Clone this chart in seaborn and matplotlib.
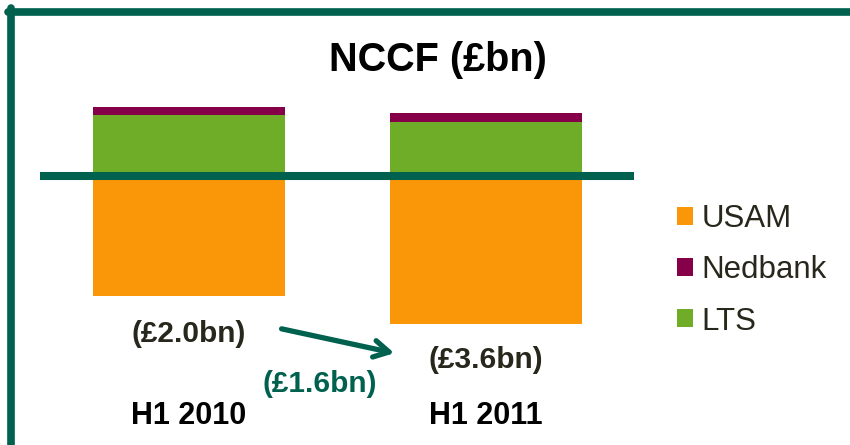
import matplotlib
matplotlib.use("Agg")
import matplotlib.pyplot as plt
import seaborn as sns
import pandas as pd
from matplotlib.patches import Patch
from matplotlib.lines import Line2D

# NCCF components (£bn)
periods = ["H1 2010", "H1 2011"]
usam = [-4.8, -5.9]
lts = [2.45, 2.17]
nedbank = [0.32, 0.36]
net_labels = ["(£2.0bn)", "(£3.6bn)"]
change_label = "(£1.6bn)"

c_usam = "#F99708"
c_lts = "#6FAC27"
c_ned = "#850048"
c_teal = "#00614F"
c_text = "#28271C"

df = pd.DataFrame({"period": periods, "USAM": usam, "LTS": lts, "Nedbank": nedbank})
df["top"] = df["LTS"] + df["Nedbank"]

sns.set_theme(style="white")
plt.rcParams["font.family"] = ["Liberation Sans", "DejaVu Sans"]

fig = plt.figure(figsize=(8.5, 4.45), dpi=100)
ax = fig.add_axes([0, 0, 1, 1])

# stacked bars: draw full positive stack, then LTS over it
bar_kw = dict(width=0.646, saturation=1, linewidth=0, ax=ax)
sns.barplot(data=df, x="period", y="top", color=c_ned, **bar_kw)
sns.barplot(data=df, x="period", y="LTS", color=c_lts, **bar_kw)
sns.barplot(data=df, x="period", y="USAM", color=c_usam, **bar_kw)

ax.set_xlim(-0.636, 2.226)
ax.set_ylim(-10.75, 7.05)
ax.hlines(0, -0.502, 1.498, color=c_teal, lw=5.8, zorder=5)
ax.axis("off")

# net labels and category labels below bars
net_y = [-6.32, -7.37]
for i, (lab, yy) in enumerate(zip(net_labels, net_y)):
    ax.text(i, yy, lab, ha="center", va="center", fontsize=21.5, fontweight="bold", color=c_text)
    ax.text(i, -9.57, periods[i], ha="center", va="center", fontsize=22, fontweight="bold", color="black")

ax.annotate("", xy=(0.701, -7.1), xytext=(0.303, -6.08),
            arrowprops=dict(arrowstyle="->,head_length=0.9,head_width=0.5", color=c_teal, lw=3.8))
ax.text(0.441, -8.32, change_label, ha="center", va="center", fontsize=21.5, fontweight="bold", color=c_teal)

fig.text(438 / 850, 1 - 60 / 445, "NCCF (£bn)", ha="center", va="center",
         fontsize=28.5, fontweight="bold", color="black")

# frame lines
fig.add_artist(Line2D([8 / 850, 1], [1 - 11.5 / 445, 1 - 11.5 / 445], color=c_teal, lw=5.5))
fig.add_artist(Line2D([11 / 850, 11 / 850], [0, 1 - 8 / 445], color=c_teal, lw=5.5))

handles = [Patch(color=c_usam, label="USAM", lw=0), Patch(color=c_ned, label="Nedbank", lw=0),
           Patch(color=c_lts, label="LTS", lw=0)]
fig.legend(handles=handles, loc="upper left", bbox_to_anchor=(677 / 850, 1 - 204 / 445),
           frameon=False, fontsize=22.5, handlelength=0.51, handleheight=0.51,
           handletextpad=0.28, labelspacing=0.68, borderpad=0, borderaxespad=0,
           labelcolor=c_text)

fig.savefig("out.png", dpi=100)
